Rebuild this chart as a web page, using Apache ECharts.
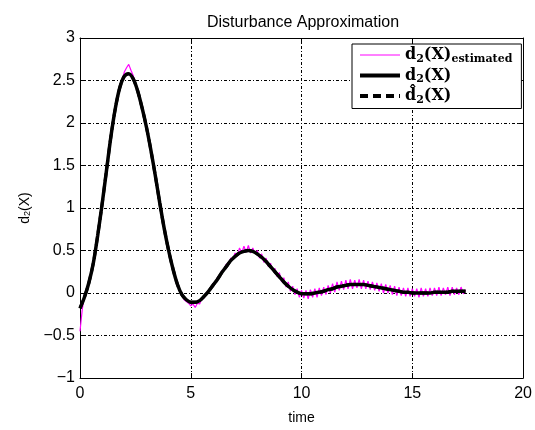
<!DOCTYPE html>
<html>
<head>
<meta charset="utf-8">
<script src="https://cdn.jsdelivr.net/npm/echarts@6/dist/echarts.min.js"></script>
<style>html,body{margin:0;padding:0;background:#fff}#c{width:535px;height:430px}</style>
</head>
<body>
<div id="c"></div>
<script>
// ---- data ----
var xTicks = [0, 5, 10, 15, 20];
var yTicks = [-1, -0.5, 0, 0.5, 1, 1.5, 2, 2.5, 3];
// smooth disturbance d2(X), sampled every 0.2 s from t = 0
var smoothStep = 0.2;
var d2Values = [
 -0.18,-0.05,0.12,0.35,0.68,1.05,1.45,1.85,2.18,2.42,
  2.55,2.58,2.52,2.38,2.18,1.95,1.68,1.38,1.06,0.76,
  0.50,0.28,0.10,-0.02,-0.08,-0.11,-0.11,-0.09,-0.04,0.02,
  0.09,0.16,0.24,0.31,0.38,0.43,0.47,0.49,0.50,0.49,
  0.46,0.42,0.37,0.31,0.25,0.19,0.13,0.08,0.04,0.01,
 -0.01,-0.01,-0.01,0.00,0.01,0.02,0.04,0.05,0.07,0.08,
  0.09,0.10,0.10,0.10,0.10,0.09,0.08,0.07,0.06,0.05,
  0.04,0.03,0.02,0.01,0.01,0.00,0.00,0.00,0.00,0.00,
  0.01,0.01,0.01,0.01,0.02,0.02,0.02,0.02
];
// approximation d2hat(X) (visually identical to d2)
var d2HatValues = d2Values.slice();
// noisy estimate, sampled every 0.1 s from t = 0
var estStep = 0.1;
var estValues = [
 -0.45,-0.20,-0.02,0.02,0.14,0.22,0.37,0.50,0.70,0.85,
  1.07,1.25,1.47,1.64,1.87,2.02,2.20,2.30,2.45,2.50,
  2.60,2.65,2.69,2.62,2.56,2.47,2.40,2.28,2.20,2.06,
  1.97,1.80,1.70,1.52,1.39,1.21,1.08,0.90,0.77,0.62,
  0.52,0.38,0.30,0.17,0.12,0.02,-0.01,-0.08,-0.10,-0.12,
 -0.15,-0.13,-0.17,-0.12,-0.13,-0.06,-0.06,0.00,0.03,0.04,
  0.11,0.12,0.18,0.20,0.26,0.27,0.34,0.33,0.41,0.40,
  0.47,0.44,0.53,0.47,0.55,0.48,0.56,0.47,0.53,0.46,
  0.50,0.41,0.46,0.36,0.41,0.31,0.35,0.26,0.29,0.19,
  0.24,0.13,0.18,0.07,0.13,0.02,0.08,-0.02,0.05,-0.05,
  0.03,-0.06,0.03,-0.07,0.04,-0.05,0.05,-0.05,0.06,-0.03,
  0.07,-0.02,0.09,0.00,0.11,0.01,0.13,0.03,0.14,0.04,
  0.15,0.05,0.16,0.05,0.15,0.06,0.16,0.05,0.15,0.05,
  0.14,0.04,0.13,0.03,0.12,0.02,0.11,0.00,0.10,0.00,
  0.09,-0.02,0.08,-0.03,0.07,-0.03,0.06,-0.04,0.06,-0.04,
  0.05,-0.04,0.05,-0.05,0.06,-0.04,0.05,-0.04,0.06,-0.03,
  0.06,-0.03,0.07,-0.03,0.06,-0.02,0.07,-0.03,0.07,-0.02,
  0.06,-0.02,0.07,-0.01,0.04
];

function pairs(vals, step) {
  return vals.map(function (v, i) { return [Math.round(i * step * 100) / 100, v]; });
}

var chart = echarts.init(document.getElementById('c'), null, {renderer: 'canvas'});
var sans = 'Liberation Sans, Arial, sans-serif';
var serif = 'DejaVu Serif, serif';
var gridLine = {show: true, lineStyle: {color: '#000', width: 1, type: [3, 2, 1, 2]}};
var axisLine = {show: true, onZero: false, lineStyle: {color: '#000', width: 1}};
var tickIn = {show: true, inside: true, length: 5, lineStyle: {color: '#000'}};
var minus = function (v) { return String(v).replace('-', '\u2212'); };

var legendNames = {
  est: '{b|d}{s|2}{b|(X)}{e|estimated}',
  d2: '{b|d}{s|2}{b|(X)}',
  d2hat: '{b|d\u0302}{s|2}{b|(X)}'
};

chart.setOption({
  animation: false,
  backgroundColor: '#fff',
  title: {
    text: 'Disturbance Approximation',
    left: 298, top: 10, textAlign: 'center',
    textStyle: {fontFamily: sans, fontSize: 16, fontWeight: 'normal', color: '#000'}
  },
  grid: {left: 80, right: 11, top: 38, bottom: 40, containLabel: false},
  legend: {
    orient: 'vertical', left: 352, top: 44,
    backgroundColor: '#fff', borderColor: '#000', borderWidth: 1,
    padding: [3, 9, 3, 6], itemGap: 3, itemWidth: 40, itemHeight: 18,
    data: [
      {name: 'est', lineStyle: {color: '#ff00ff', width: 1, type: 'solid'}},
      {name: 'd2', lineStyle: {color: '#000', width: 4, type: 'solid'}},
      {name: 'd2hat', lineStyle: {color: '#000', width: 4, type: [8, 5]}}
    ],
    itemStyle: {opacity: 0, borderWidth: 0},
    formatter: function (n) { return legendNames[n]; },
    textStyle: {
      color: '#000',
      rich: {
        b: {fontFamily: serif, fontWeight: 'bold', fontSize: 16, color: '#000'},
        s: {fontFamily: serif, fontWeight: 'bold', fontSize: 11, color: '#000', padding: [8, 0, 0, 0]},
        e: {fontFamily: serif, fontWeight: 'bold', fontSize: 11, color: '#000', padding: [8, 0, 0, 0]}
      }
    }
  },
  xAxis: [{
    type: 'value', min: 0, max: 20, interval: 5, position: 'bottom',
    name: 'time', nameLocation: 'middle', nameGap: 33,
    nameTextStyle: {fontFamily: sans, fontSize: 14, color: '#000'},
    axisLine: axisLine, axisTick: tickIn, splitLine: gridLine,
    axisLabel: {fontFamily: sans, fontSize: 16, color: '#000', margin: 8,
      formatter: function (v) { return xTicks.indexOf(v) >= 0 ? minus(v) : ''; }}
  }, {
    type: 'value', min: 0, max: 20, interval: 5, position: 'top',
    axisLine: axisLine, axisTick: tickIn, splitLine: {show: false}, axisLabel: {show: false}
  }],
  yAxis: [{
    type: 'value', min: -1, max: 3, interval: 0.5, position: 'left',
    name: '{n|d}{s|2}{n|(X)}', nameLocation: 'middle', nameGap: 46, nameRotate: 90,
    nameTextStyle: {rich: {
      n: {fontFamily: sans, fontSize: 14, color: '#000'},
      s: {fontFamily: sans, fontSize: 9, color: '#000', verticalAlign: 'bottom'}
    }},
    axisLine: axisLine, axisTick: tickIn, splitLine: gridLine,
    axisLabel: {fontFamily: sans, fontSize: 16, color: '#000', margin: 5,
      formatter: function (v) { return yTicks.indexOf(v) >= 0 ? minus(v) : ''; }}
  }, {
    type: 'value', min: -1, max: 3, interval: 0.5, position: 'right',
    axisLine: axisLine, axisTick: tickIn, splitLine: {show: false}, axisLabel: {show: false}
  }],
  series: [{
    name: 'est', type: 'line', symbol: 'none', data: pairs(estValues, estStep),
    lineStyle: {color: '#ff00ff', width: 1.2}, itemStyle: {color: '#ff00ff'}, z: 2
  }, {
    name: 'd2', type: 'line', symbol: 'none', smooth: 0.3, data: pairs(d2Values, smoothStep),
    lineStyle: {color: '#000', width: 3.5}, itemStyle: {color: '#000'}, z: 3
  }, {
    name: 'd2hat', type: 'line', symbol: 'none', smooth: 0.3, data: pairs(d2HatValues, smoothStep),
    lineStyle: {color: '#000', width: 3, type: [8, 5]}, itemStyle: {color: '#000'}, z: 4
  }]
});
</script>
</body>
</html>
